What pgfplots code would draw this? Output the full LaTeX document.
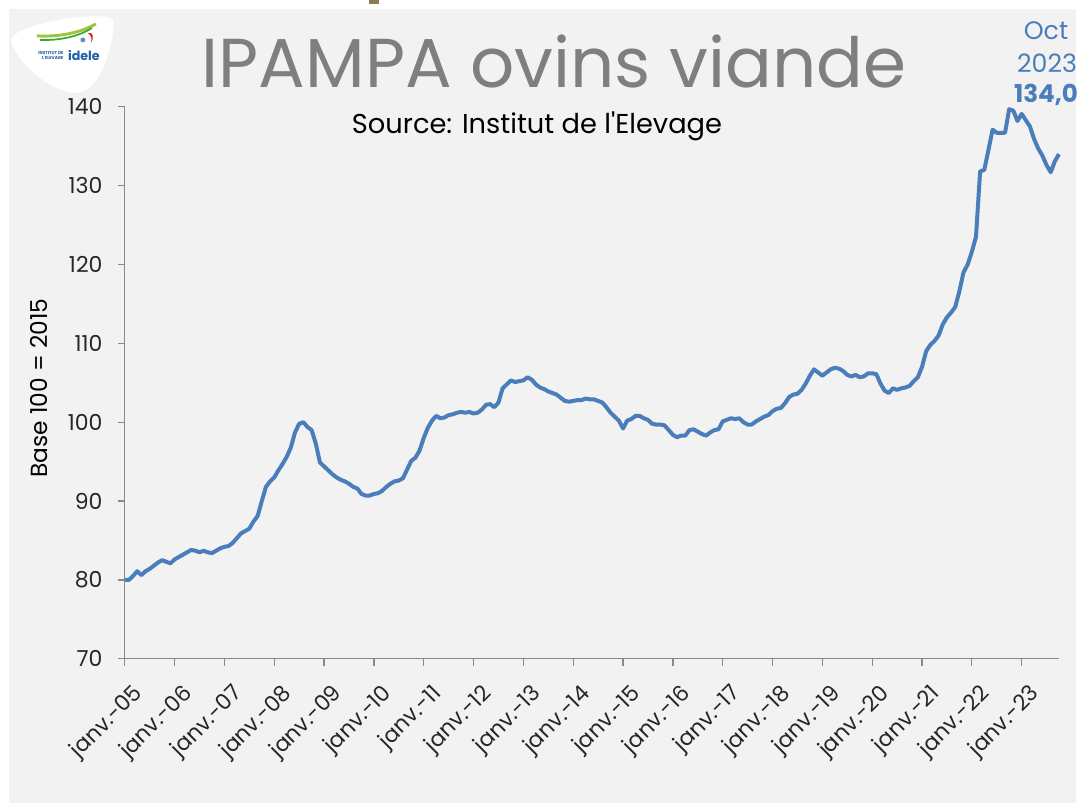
\documentclass[border=0pt]{standalone}
\usepackage{pgfplots}
\pgfplotsset{compat=1.18}
\usepackage{fontspec}
\setmainfont{Poppins}
\definecolor{bg}{HTML}{F2F2F2}
\definecolor{ln}{HTML}{4A7EBB}
\definecolor{ttl}{HTML}{7F7F7F}
\definecolor{ax}{HTML}{898989}
\definecolor{lime}{HTML}{9BC53D}
\definecolor{dgreen}{HTML}{3AA935}
\definecolor{logoblue}{HTML}{1F5FA8}
\definecolor{tab}{HTML}{8C7B55}

\begin{document}
\begin{tikzpicture}
% background, in pixel units (y downwards)
\begin{scope}[x=0.75pt,y=-0.75pt]
\path[use as bounding box] (0,0) rectangle (1078,805);
\fill[white] (0,0) rectangle (1078,805);
\fill[bg] (9,9) rectangle (1078,805);
\fill[tab] (370,0) rectangle (380,4);
% logo
\fill[white] (12,38) .. controls (6,48) and (45,94) .. (78,93)
  .. controls (100,92) and (114,45) .. (114,22) .. controls (114,8) and (20,22) .. (12,38) -- cycle;
\draw[lime, line width=2.2] (37,36) .. controls (60,37) and (80,33) .. (96,24);
\draw[dgreen, line width=1.3] (40,40) .. controls (62,41) and (82,35) .. (92,28);
\fill[red!85!black] (88,33) .. controls (93,32) and (95,38) .. (91,43) .. controls (93,38) and (91,35) .. (88,33);
\fill[logoblue!70] (83,40) circle (2.5);
\node[text=logoblue, font=\bfseries\fontsize{3.2}{3.6}\selectfont, align=right, inner sep=0] at (51,56) {INSTITUT DE\\L\textquotesingle ELEVAGE};
\node[text=logoblue, font=\bfseries\fontsize{9.5}{10}\selectfont, inner sep=0, anchor=base] at (84,61) {idele};
\end{scope}

\begin{axis}[
  at={(93.75pt,-495pt)}, anchor=south west,
  scale only axis, width=702pt, height=414.75pt,
  xmin=0, xmax=225, ymin=70, ymax=140,
  axis x line*=bottom, axis y line*=left,
  axis line style={ax, line width=1pt},
  tick style={ax, line width=1pt},
  tick align=outside, major tick length=5.25pt,
  xtick={0,12,...,216},
  xticklabels={janv.-05,janv.-06,janv.-07,janv.-08,janv.-09,janv.-10,janv.-11,janv.-12,janv.-13,janv.-14,janv.-15,janv.-16,janv.-17,janv.-18,janv.-19,janv.-20,janv.-21,janv.-22,janv.-23},
  ytick={70,80,...,140},
  tick label style={font=\fontsize{16.5}{16.5}\selectfont, text=black!85},
  xticklabel style={xshift=5pt, yshift=-11pt, rotate=45, anchor=north east, inner sep=1pt},
  yticklabel shift=8pt,
  /pgf/number format/assume math mode=true,
  clip=false,
]
\addplot[ln, line width=3pt, line join=round] coordinates {
(0,80.0) (1,80.0) (2,80.5) (3,81.1) (4,80.6) (5,81.1) (6,81.4) (7,81.8) (8,82.2) (9,82.5) (10,82.3) (11,82.1)
(12,82.6) (13,82.9) (14,83.2) (15,83.5) (16,83.8) (17,83.7) (18,83.5) (19,83.7) (20,83.5) (21,83.4) (22,83.7) (23,84.0)
(24,84.2) (25,84.3) (26,84.7) (27,85.3) (28,85.9) (29,86.2) (30,86.5) (31,87.4) (32,88.1) (33,90.0) (34,91.8) (35,92.5)
(36,93.0) (37,93.9) (38,94.7) (39,95.6) (40,96.8) (41,98.7) (42,99.8) (43,100.0) (44,99.4) (45,99.0) (46,97.3) (47,94.9)
(48,94.4) (49,93.9) (50,93.4) (51,93.0) (52,92.7) (53,92.5) (54,92.2) (55,91.8) (56,91.6) (57,90.9) (58,90.7) (59,90.7)
(60,90.9) (61,91.0) (62,91.3) (63,91.8) (64,92.2) (65,92.5) (66,92.6) (67,92.9) (68,94.0) (69,95.1) (70,95.5) (71,96.4)
(72,98.0) (73,99.3) (74,100.2) (75,100.8) (76,100.5) (77,100.6) (78,100.9) (79,101.0) (80,101.2) (81,101.3) (82,101.2) (83,101.3)
(84,101.1) (85,101.2) (86,101.6) (87,102.2) (88,102.3) (89,101.9) (90,102.5) (91,104.3) (92,104.8) (93,105.3) (94,105.1) (95,105.2)
(96,105.3) (97,105.7) (98,105.4) (99,104.8) (100,104.4) (101,104.2) (102,103.9) (103,103.7) (104,103.5) (105,103.1) (106,102.7) (107,102.6)
(108,102.7) (109,102.8) (110,102.8) (111,103.0) (112,102.9) (113,102.9) (114,102.7) (115,102.5) (116,101.9) (117,101.2) (118,100.7) (119,100.2)
(120,99.2) (121,100.2) (122,100.4) (123,100.8) (124,100.8) (125,100.5) (126,100.3) (127,99.8) (128,99.7) (129,99.7) (130,99.6) (131,99.0)
(132,98.4) (133,98.1) (134,98.3) (135,98.3) (136,99.0) (137,99.1) (138,98.8) (139,98.5) (140,98.3) (141,98.7) (142,99.0) (143,99.1)
(144,100.1) (145,100.3) (146,100.5) (147,100.4) (148,100.5) (149,100.0) (150,99.7) (151,99.7) (152,100.1) (153,100.4) (154,100.7) (155,100.9)
(156,101.4) (157,101.7) (158,101.8) (159,102.4) (160,103.2) (161,103.5) (162,103.6) (163,104.1) (164,104.9) (165,105.9) (166,106.7) (167,106.3)
(168,105.9) (169,106.3) (170,106.7) (171,106.9) (172,106.8) (173,106.5) (174,106.0) (175,105.8) (176,106.0) (177,105.7) (178,105.8) (179,106.2)
(180,106.2) (181,106.1) (182,104.9) (183,104.0) (184,103.7) (185,104.3) (186,104.1) (187,104.3) (188,104.4) (189,104.6) (190,105.2) (191,105.7)
(192,107.0) (193,109.0) (194,109.8) (195,110.3) (196,111.0) (197,112.4) (198,113.3) (199,113.9) (200,114.6) (201,116.6) (202,119.0) (203,120.0)
(204,121.6) (205,123.5) (206,131.8) (207,132.0) (208,134.5) (209,137.1) (210,136.7) (211,136.7) (212,136.7) (213,139.7) (214,139.5) (215,138.2)
(216,139.1) (217,138.3) (218,137.5) (219,135.9) (220,134.7) (221,133.8) (222,132.6) (223,131.7) (224,133.1) (225,134.0)
};
\end{axis}

\begin{scope}[x=0.75pt,y=-0.75pt]
\node[anchor=base, text=ttl, inner sep=0, font=\fontsize{52}{52}\selectfont] at (555,88) {IPAMPA ovins viande};
\node[anchor=base, inner sep=0, font=\fontsize{20.5}{20.5}\selectfont] at (538,134) {Source: Institut de l\textquotesingle Elevage};
\node[rotate=90, inner sep=0, font=\fontsize{17.5}{17.5}\selectfont] at (39,389) {Base 100 = 2015};
\node[anchor=base, text=ln, inner sep=0, font=\fontsize{19}{19}\selectfont] at (1048,40) {Oct};
\node[anchor=base, text=ln, inner sep=0, font=\fontsize{19}{19}\selectfont] at (1049,73) {2023};
\node[anchor=base, text=ln, inner sep=0, font=\bfseries\fontsize{18.5}{18.5}\selectfont] at (1048,103) {134,0};
\end{scope}
\end{tikzpicture}
\end{document}
